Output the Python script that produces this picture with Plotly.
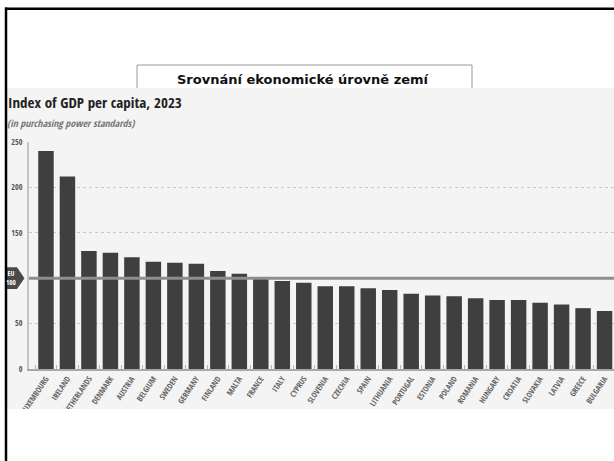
import plotly.graph_objects as go

countries = ["LUXEMBOURG", "IRELAND", "NETHERLANDS", "DENMARK", "AUSTRIA", "BELGIUM",
             "SWEDEN", "GERMANY", "FINLAND", "MALTA", "FRANCE", "ITALY", "CYPRUS",
             "SLOVENIA", "CZECHIA", "SPAIN", "LITHUANIA", "PORTUGAL", "ESTONIA",
             "POLAND", "ROMANIA", "HUNGARY", "CROATIA", "SLOVAKIA", "LATVIA",
             "GREECE", "BULGARIA"]
gdp_index = [240, 212, 130, 128, 123, 118, 117, 116, 108, 105, 99, 97, 95,
             91, 91, 89, 87, 83, 81, 80, 78, 76, 76, 73, 71, 67, 64]
y_ticks = [0, 50, 150, 200, 250]
eu_level = 100

W, H = 614, 461
def px(x): return x / W
def py(y): return 1 - y / H

COND = ("Open Sans Condensed, Noto Sans Condensed, Roboto Condensed, "
        "DejaVu Sans Condensed, Liberation Sans Narrow, Roboto, sans-serif")

fig = go.Figure()
fig.add_trace(go.Bar(x=countries, y=gdp_index, marker=dict(color="#3f3f3f", line=dict(width=0)),
                     width=0.72, hoverinfo="x+y"))

shapes = [
    dict(type="rect", xref="paper", yref="paper", x0=px(137), x1=px(472), y0=py(95), y1=py(65),
         fillcolor="white", line=dict(color="#9a9a9a", width=1), layer="below"),
    dict(type="rect", xref="paper", yref="paper", x0=px(7), x1=1.0, y0=py(409), y1=py(88),
         fillcolor="#f4f4f4", line=dict(width=0), layer="below"),
    dict(type="line", xref="paper", yref="y", x0=px(29), x1=1.0, y0=eu_level, y1=eu_level,
         line=dict(color="#8e8e8e", width=3), layer="above"),
    dict(type="path", xref="paper", yref="y",
         path=f"M {px(4)},{eu_level+12} L {px(17)},{eu_level+12} L {px(24.5)},{eu_level} "
              f"L {px(17)},{eu_level-12} L {px(4)},{eu_level-12} Z",
         fillcolor="#4a4a4a", line=dict(width=0), layer="above"),
    dict(type="rect", xref="paper", yref="paper", x0=0, x1=1.0, y0=0, y1=py(409),
         fillcolor="white", line=dict(width=0), layer="above"),
    dict(type="rect", xref="paper", yref="paper", x0=0, x1=px(5), y0=0, y1=1,
         fillcolor="white", line=dict(width=0), layer="above"),
    dict(type="line", xref="paper", yref="paper", x0=px(6), x1=px(6), y0=0, y1=py(7.5),
         line=dict(color="black", width=2.5), layer="above"),
    dict(type="line", xref="paper", yref="paper", x0=px(5), x1=1.0, y0=py(8.8), y1=py(8.8),
         line=dict(color="black", width=2.5), layer="above"),
]

annotations = [
    dict(text="<b>Srovnání ekonomické úrovně zemí</b>", xref="paper", yref="paper",
         x=px(303), y=py(79), xanchor="center", yanchor="middle", showarrow=False,
         font=dict(family="DejaVu Sans", size=13, color="#111")),
    dict(text="<b>Index of GDP per capita, 2023</b>", xref="paper", yref="paper",
         x=px(6), y=py(102), xanchor="left", yanchor="middle", showarrow=False,
         font=dict(family=COND, size=15, color="#222")),
    dict(text="<i>(in purchasing power standards)</i>", xref="paper", yref="paper",
         x=px(5), y=py(123), xanchor="left", yanchor="middle", showarrow=False,
         font=dict(family=COND, size=10, color="#777", weight=300)),
    dict(text="EU<br>100", xref="paper", yref="y", x=px(11), y=eu_level,
         xanchor="center", yanchor="middle", showarrow=False,
         font=dict(family=COND, size=7, color="white")),
]

fig.update_layout(
    width=W, height=H, margin=dict(l=0, r=0, t=0, b=0, pad=0, autoexpand=False),
    paper_bgcolor="white", plot_bgcolor="rgba(0,0,0,0)",
    showlegend=False, bargap=0.28,
    shapes=shapes, annotations=annotations,
    xaxis=dict(domain=[px(29), 1.0], type="category", range=[-0.79, 26.44], automargin=False,
               showline=True, linecolor="#a8a8a8", linewidth=2,
               ticks="inside", tickson="boundaries", ticklen=4, tickcolor="#b5b5b5",
               tickangle=-56, tickfont=dict(family=COND, size=8, color="#666", weight=300),
               showgrid=False, zeroline=False),
    yaxis=dict(domain=[py(369), py(142)], range=[0, 250], tickvals=y_ticks, automargin=False,
               showline=True, linecolor="#c4c4c4", linewidth=2,
               showgrid=True, gridcolor="#c9c9c9", griddash="dot", gridwidth=1,
               zeroline=False, ticks="", ticklabelstandoff=3,
               tickfont=dict(family=COND, size=8, color="#555", weight=300)),
)

fig.write_html("out.html", config={"displayModeBar": False},
               post_script="document.body.style.margin='0px';"
                           "document.body.style.overflow='hidden';")
